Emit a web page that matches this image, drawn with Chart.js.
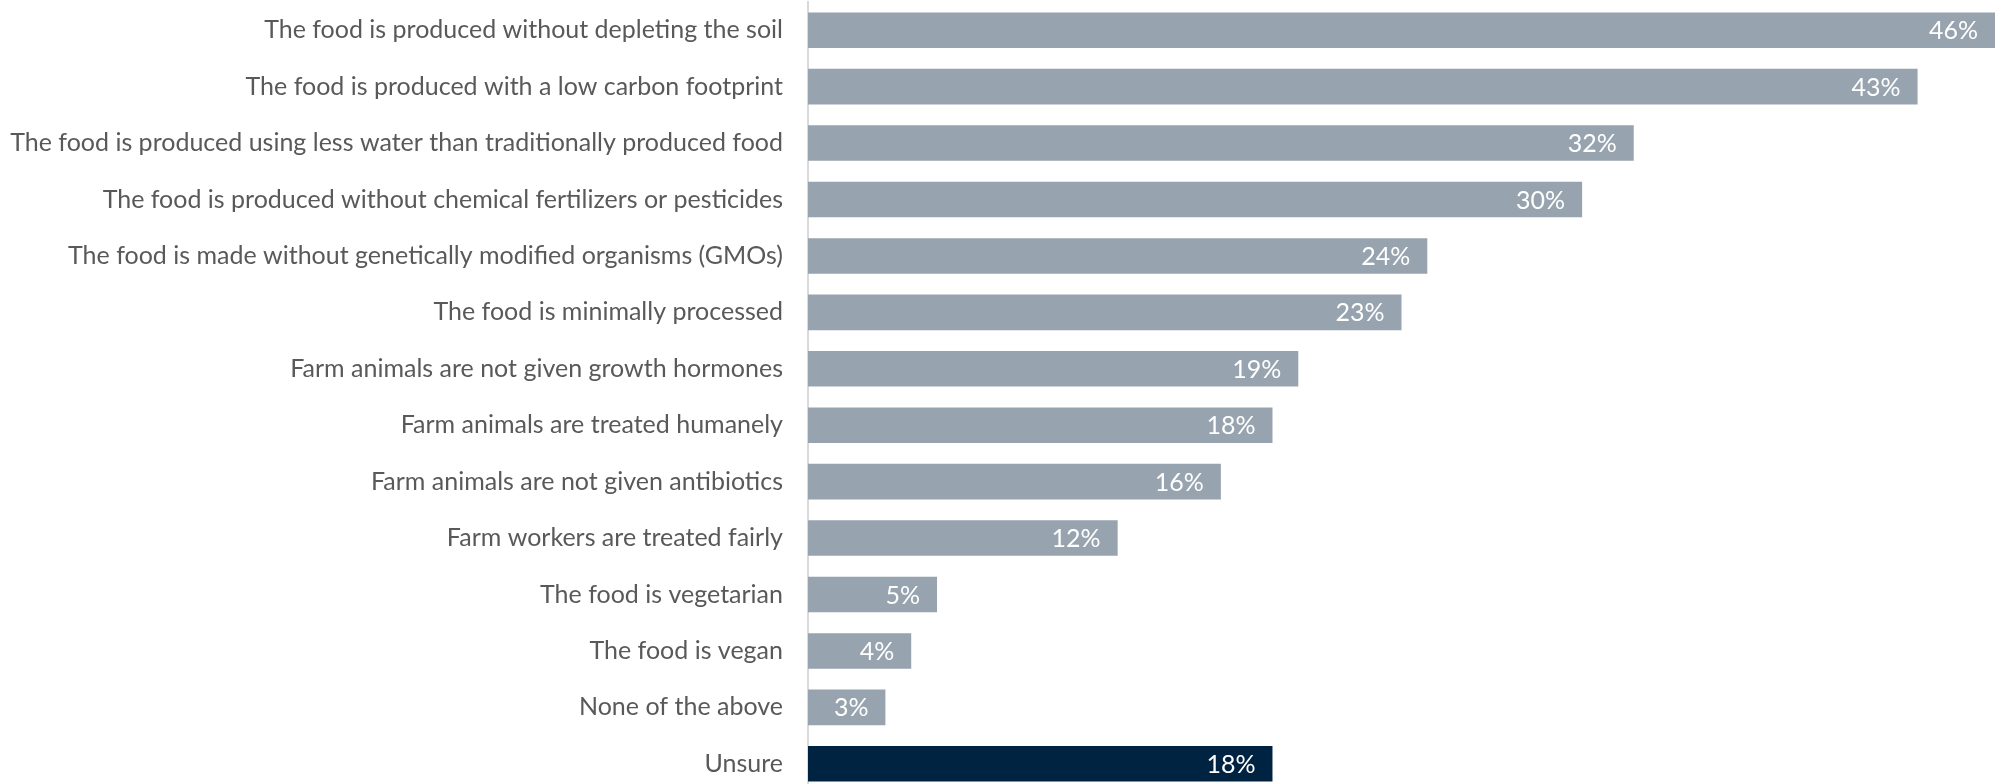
<!DOCTYPE html>
<html>
<head>
<meta charset="utf-8">
<script src="https://cdn.jsdelivr.net/npm/chart.js@4"></script>
<style>
html,body{margin:0;padding:0;background:#fff;overflow:hidden;}
#wrap{width:1995px;height:784px;position:relative;overflow:hidden;}
</style>
</head>
<body>
<div id="wrap"><canvas id="c" width="1995" height="792"></canvas></div>
<script>
const categories = [
  "The food is produced without depleting the soil",
  "The food is produced with a low carbon footprint",
  "The food is produced using less water than traditionally produced food",
  "The food is produced without chemical fertilizers or pesticides",
  "The food is made without genetically modified organisms (GMOs)",
  "The food is minimally processed",
  "Farm animals are not given growth hormones",
  "Farm animals are treated humanely",
  "Farm animals are not given antibiotics",
  "Farm workers are treated fairly",
  "The food is vegetarian",
  "The food is vegan",
  "None of the above",
  "Unsure"
];
const values = [46, 43, 32, 30, 24, 23, 19, 18, 16, 12, 5, 4, 3, 18];
const barColors = ["#97A3AE","#97A3AE","#97A3AE","#97A3AE","#97A3AE","#97A3AE","#97A3AE","#97A3AE","#97A3AE","#97A3AE","#97A3AE","#97A3AE","#97A3AE","#002341"];
const valueLabels = values.map(v => v + "%");

const FONT = "Lato, 'Open Sans', sans-serif";
const FSIZE = 25;

const labelPlugin = {
  id: 'valueLabels',
  afterDatasetsDraw(chart) {
    const ctx = chart.ctx;
    const meta = chart.getDatasetMeta(0);
    ctx.save();
    ctx.font = FSIZE + "px " + FONT;
    ctx.fillStyle = "#FFFFFF";
    ctx.textAlign = "right";
    ctx.textBaseline = "middle";
    meta.data.forEach((bar, i) => {
      ctx.fillText(valueLabels[i], bar.x - 17, bar.y + 1);
    });
    ctx.restore();
  }
};

new Chart(document.getElementById('c'), {
  type: 'bar',
  data: {
    labels: categories,
    datasets: [{
      data: values,
      backgroundColor: barColors,
      borderWidth: 0,
      barPercentage: 1.0,
      categoryPercentage: 0.63
    }]
  },
  options: {
    indexAxis: 'y',
    responsive: false,
    animation: false,
    layout: { padding: { top: 2, bottom: 0, left: 0, right: 0 } },
    plugins: { legend: { display: false }, tooltip: { enabled: false } },
    scales: {
      x: {
        min: 0, max: 46,
        display: false
      },
      y: {
        grid: { display: false, drawTicks: false },
        border: { display: true, color: "#D9D9D9", width: 2 },
        ticks: {
          color: "#595959",
          font: { family: FONT, size: FSIZE },
          padding: 25
        },
        afterFit(scale) {
          scale.width = 808;
          scale.paddingTop = 0;
          scale.paddingBottom = 0;
        }
      }
    }
  },
  plugins: [labelPlugin]
});
</script>
</body>
</html>
